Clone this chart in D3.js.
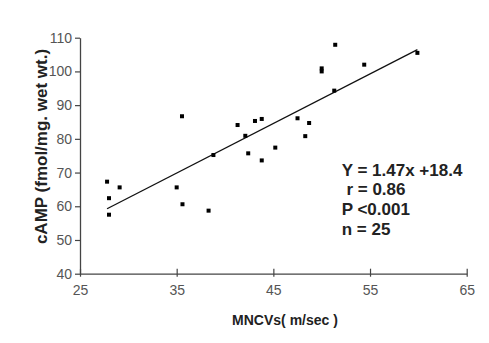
<!DOCTYPE html>
<html><head><meta charset="utf-8">
<script src="https://cdn.jsdelivr.net/npm/d3@7"></script>
<style>body{margin:0;background:#fff}svg{display:block}</style>
</head><body>
<svg id="c" width="489" height="343"></svg>
<script>
const mncv = [35.55,41.3,42.1,38.8,42.4,51.4,59.9,54.4,50.0,50.0,51.3,43.1,43.8,43.8,45.2,47.5,48.7,48.3,27.8,28.0,28.0,29.1,35.0,35.6,38.3];
const camp = [86.7,84.1,80.9,75.2,75.7,107.9,105.5,102.0,100.9,100.0,94.3,85.3,85.9,73.6,77.4,86.1,84.7,80.8,67.3,62.4,57.5,65.6,65.6,60.6,58.7];
const xTicks = [25,35,45,55,65];
const yTicks = [40,50,60,70,80,90,100,110];
const slope = 1.47, intercept = 18.4;
const fitRange = [27.8, 59.9];
const statLines = ["Y = 1.47x +18.4"," r = 0.86","P <0.001","n = 25"];

const svg = d3.select("#c");
const x = d3.scaleLinear().domain([25,65]).range([80,466.7]);
const y = d3.scaleLinear().domain([40,110]).range([273.7,37.7]);
const axisCol = "#444";

const gx = svg.append("g").attr("transform","translate(0,273.7)")
  .call(d3.axisBottom(x).tickValues(xTicks).tickSize(5).tickSizeOuter(0).tickPadding(6));
const gy = svg.append("g").attr("transform","translate(80,0)")
  .call(d3.axisLeft(y).tickValues(yTicks).tickSize(5).tickSizeOuter(0).tickPadding(3));
[gx,gy].forEach(g=>{
  g.select(".domain").attr("stroke",axisCol).attr("stroke-width",1.3);
  g.selectAll(".tick line").attr("stroke",axisCol).attr("stroke-width",1.2);
  g.selectAll(".tick text").attr("fill","#555").attr("font-family","Liberation Sans, Arial, sans-serif").attr("font-size",14);
});
gx.selectAll(".tick line").attr("y2",-5).attr("y1",3);
gy.selectAll(".tick line").attr("x2",-5);

svg.append("line")
  .attr("x1",x(fitRange[0])).attr("y1",y(slope*fitRange[0]+intercept))
  .attr("x2",x(fitRange[1])).attr("y2",y(slope*fitRange[1]+intercept))
  .attr("stroke","#111").attr("stroke-width",1.3);

svg.append("g").selectAll("rect").data(mncv.map((v,i)=>[v,camp[i]])).join("rect")
  .attr("x",d=>x(d[0])-2).attr("y",d=>y(d[1])-2).attr("width",4).attr("height",4).attr("fill","#000");

svg.append("text").attr("x",285).attr("y",325).attr("text-anchor","middle")
  .attr("font-family","Liberation Sans, Arial, sans-serif").attr("font-weight","bold").attr("font-size",14).attr("fill","#222")
  .text("MNCVs( m/sec )");
svg.append("text").attr("transform","translate(47,146.5) rotate(-90)").attr("text-anchor","middle")
  .attr("font-family","Liberation Sans, Arial, sans-serif").attr("font-weight","bold").attr("font-size",17).attr("fill","#222")
  .text("cAMP (fmol/mg. wet wt.)");

const st = svg.append("g").attr("font-family","Liberation Sans, Arial, sans-serif").attr("font-weight","bold").attr("font-size",17).attr("fill","#222");
st.selectAll("text").data(statLines).join("text")
  .attr("x",341.7).attr("y",(d,i)=>175.5+i*19.8).attr("xml:space","preserve").style("white-space","pre").text(d=>d);
</script>
</body></html>
